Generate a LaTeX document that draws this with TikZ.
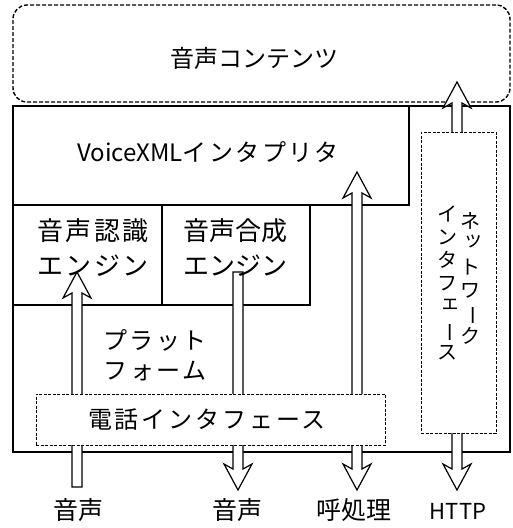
\documentclass[tikz,border=0pt]{standalone}
\usepackage{fontspec}
\usepackage{graphicx}
\usetikzlibrary{calc}
\newfontfamily\jp{Noto Sans CJK JP}
\newcommand\vbar{\rotatebox[origin=c]{-90}{ー}}
\newcommand\vsmall[1]{\hspace*{0.3em}\raisebox{0.22em}{#1}}
\newcommand\arrowUp[2]{%
  \draw[hollow] (#1) -- ++(14,26) -- ++(-9,-5) -- ($(#2)+(5,0)$) -- ++(-10,0)
    -- ($(#1)+(-5,21)$) -- ++(-9,5) -- cycle;}
\newcommand\arrowDown[2]{%
  \draw[hollow] ($(#1)+(-5,0)$) -- ++(10,0) -- ($(#2)+(5,-21)$) -- ++(9,-5)
    -- (#2) -- ++(-14,-26) -- ++(9,5) -- cycle;}
\newcommand\arrowBoth[2]{%
  \draw[hollow] (#1) -- ++(14,26) -- ++(-9,-5) -- ($(#2)+(5,-21)$) -- ++(9,-5)
    -- (#2) -- ++(-14,-26) -- ++(9,5) -- ($(#1)+(-5,21)$) -- ++(-9,5) -- cycle;}
\begin{document}
\begin{tikzpicture}[x=1pt,y=-1pt,
  frame/.style={draw, line width=1.6pt, inner sep=0pt, outer sep=0pt, anchor=north west},
  dashbox/.style={draw, dashed, dash pattern=on 3pt off 1.5pt, line width=0.8pt,
    fill=white, inner sep=0pt, outer sep=0pt, anchor=north west},
  cloud/.style={draw, dash pattern=on 4pt off 2pt, line width=1.4pt, rounded corners=14pt,
    inner sep=0pt, outer sep=0pt, anchor=north west},
  hollow/.style={draw, line width=1.2pt, fill=white, line join=miter},
  lbl/.style={font=\jp\fontsize{24}{35}\selectfont, inner sep=0pt, align=center},
  vlbl/.style={font=\jp\fontsize{20}{23}\selectfont, inner sep=0pt, align=center}]
\useasboundingbox (0,0) rectangle (512,528);
% boxes
\node[cloud, minimum width=497pt, minimum height=97pt] (content) at (13,5) {};
\node[frame, minimum width=497pt, minimum height=346pt] (platform) at (13,106) {};
\node[frame, minimum width=396pt, minimum height=99pt] (vxml) at (13,106) {};
\node[frame, minimum width=149pt, minimum height=100pt] (recog) at (13,205) {};
\node[frame, minimum width=148pt, minimum height=100pt] (synth) at (162,205) {};
% arrow end points
\coordinate (a1tip) at (77,272);  \coordinate (a1tail) at (77,487);
\coordinate (a2tail) at (238,272); \coordinate (a2tip) at (238,490);
\coordinate (a3top) at (357,172);  \coordinate (a3bot) at (357,490);
\coordinate (a4top) at (457,82);   \coordinate (a4bot) at (457,490);
\arrowUp{a1tip}{a1tail}
\arrowDown{a2tail}{a2tip}
\arrowBoth{a3top}{a3bot}
\arrowBoth{a4top}{a4bot}
% dashed interface boxes on top
\node[dashbox, minimum width=75pt, minimum height=301pt] (netif) at (421,132) {};
\node[dashbox, minimum width=349pt, minimum height=51pt] (telif) at (36,394) {};
% texts
\node[lbl] (tcontent) at (254,58) {音声コンテンツ};
\node[lbl] (tvxml) at (208,152) {VoiceXML\addfontfeature{LetterSpace=10}インタプリタ};
\node[lbl, font=\jp\fontsize{26}{35}\selectfont\addfontfeature{LetterSpace=10}] (trecog) at (93,248) {音声認識\\エンジン};
\node[lbl, font=\jp\fontsize{26}{35}\selectfont] (tsynth) at (235,248) {音声合成\\エンジン};
\node[lbl, font=\jp\fontsize{24}{30}\selectfont\addfontfeature{LetterSpace=10}] (tplat) at (155,355) {プラット\\フォーム};
\node[lbl, font=\jp\fontsize{24}{30}\selectfont\addfontfeature{LetterSpace=12}] (ttel) at (207,420) {電話インタフェース};
\node[vlbl] (tnet1) at (470,278) {ネ\\\vsmall{ッ}\\ト\\ワ\\\vbar\\ク};
\node[vlbl] (tnet2) at (447,283) {イ\\ン\\タ\\フ\\\vsmall{ェ}\\\vbar\\ス};
\node[lbl, font=\jp\fontsize{25}{30}\selectfont] (l1) at (78,510) {音声};
\node[lbl, font=\jp\fontsize{25}{30}\selectfont] (l2) at (237,510) {音声};
\node[lbl, font=\jp\fontsize{25}{30}\selectfont] (l3) at (354,510) {呼処理};
\node[lbl, font=\jp\fontsize{22}{30}\selectfont] (l4) at (458,511) {HTTP};
\end{tikzpicture}
\end{document}
